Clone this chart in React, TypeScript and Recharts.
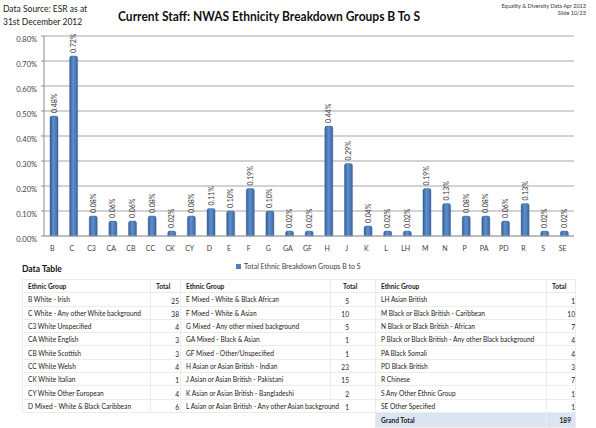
import React from 'react';
import { Bar, BarChart, CartesianGrid, LabelList, XAxis, YAxis } from 'recharts';

const codes = ['B', 'C', 'C3', 'CA', 'CB', 'CC', 'CK', 'CY', 'D', 'E', 'F', 'G', 'GA', 'GF', 'H', 'J', 'K', 'L', 'LH', 'M', 'N', 'P', 'PA', 'PD', 'R', 'S', 'SE'];
const shares = [0.48, 0.72, 0.08, 0.06, 0.06, 0.08, 0.02, 0.08, 0.11, 0.1, 0.19, 0.1, 0.02, 0.02, 0.44, 0.29, 0.04, 0.02, 0.02, 0.19, 0.13, 0.08, 0.08, 0.06, 0.13, 0.02, 0.02];
const yTicks = [0, 0.1, 0.2, 0.3, 0.4, 0.5, 0.6, 0.7, 0.8];

const groupsA = ['B White - Irish', 'C White - Any other White background', 'C3 White Unspecified', 'CA White English', 'CB White Scottish', 'CC White Welsh', 'CK White Italian', 'CY White Other European', 'D Mixed - White & Black Caribbean'];
const totalsA = [25, 38, 4, 3, 3, 4, 1, 4, 6];
const groupsB = ['E Mixed - White & Black African', 'F Mixed - White & Asian', 'G Mixed - Any other mixed background', 'GA Mixed - Black & Asian', 'GF Mixed - Other/Unspecified', 'H Asian or Asian British - Indian', 'J Asian or Asian British - Pakistani', 'K Asian or Asian British - Bangladeshi', 'L Asian or Asian British - Any other Asian background'];
const totalsB = [5, 10, 5, 1, 1, 23, 15, 2, 1];
const groupsC = ['LH Asian British', 'M Black or Black British - Caribbean', 'N Black or Black British - African', 'P Black or Black British - Any other Black background', 'PA Black Somali', 'PD Black British', 'R Chinese', 'S Any Other Ethnic Group', 'SE Other Specified'];
const totalsC = [1, 10, 7, 4, 4, 3, 7, 1, 1];
const grandTotal = 189;

const seriesName = 'Total Ethnic Breakdown Groups B to S';
const FONT = 'Lato, "Liberation Sans", sans-serif';
const INK = '#404040';

const chartData = codes.map((code, i) => ({ code, share: shares[i] }));

const fmt = (v: number) => `${v.toFixed(2)}%`;

// rotated value label sitting just above each bar
const ValueLabel = (props: any) => {
  const { x, y, width, value } = props;
  const cx = x + width / 2 + 2.5;
  const cy = y - 3;
  return (
    <text x={cx} y={cy} transform={`rotate(-90 ${cx} ${cy})`} fontSize={7} fill="#333" fontFamily={FONT}>
      {fmt(value)}
    </text>
  );
};

const YTick = (p: any) => (
  <text x={p.x - 2} y={p.y + 6} textAnchor="end" fontSize={7.5} fill={INK} fontFamily={FONT}>
    {fmt(p.payload.value)}
  </text>
);

const XTick = (p: any) => (
  <text x={p.x - 1.5} y={p.y + 7} textAnchor="middle" fontSize={7} fill={INK} fontFamily={FONT}>
    {p.payload.value}
  </text>
);

const cell: React.CSSProperties = {
  border: '1px solid #ececec',
  padding: '0 0 0 5px',
  height: 12.3,
  whiteSpace: 'nowrap',
  overflow: 'visible',
};
const numCell = (pad: number): React.CSSProperties => ({
  ...cell,
  textAlign: 'right',
  verticalAlign: 'bottom',
  padding: `0 ${pad}px 0 0`,
  lineHeight: '9px',
});

function DataTable() {
  return (
    <table
      style={{
        position: 'absolute',
        left: 22,
        top: 279,
        borderCollapse: 'collapse',
        tableLayout: 'fixed',
        width: 553,
        fontFamily: FONT,
        fontSize: 6.6,
        color: '#222',
      }}
    >
      <colgroup>
        <col style={{ width: 128 }} />
        <col style={{ width: 30 }} />
        <col style={{ width: 150 }} />
        <col style={{ width: 45 }} />
        <col style={{ width: 171 }} />
        <col style={{ width: 29 }} />
      </colgroup>
      <tbody>
        <tr style={{ fontWeight: 700 }}>
          <td style={cell}>Ethnic Group</td>
          <td style={cell}>Total</td>
          <td style={cell}>Ethnic Group</td>
          <td style={{ ...cell, paddingLeft: 12 }}>Total</td>
          <td style={cell}>Ethnic Group</td>
          <td style={cell}>Total</td>
        </tr>
        {groupsA.map((g, i) => (
          <tr key={g}>
            <td style={cell}>{g}</td>
            <td style={numCell(1)}>{totalsA[i]}</td>
            <td style={cell}>{groupsB[i]}</td>
            <td style={numCell(26)}>{totalsB[i]}</td>
            <td style={cell}>{groupsC[i]}</td>
            <td style={numCell(0)}>{totalsC[i]}</td>
          </tr>
        ))}
        <tr style={{ fontWeight: 700 }}>
          <td colSpan={4} style={{ height: 12.3 }} />
          <td style={{ ...cell, background: '#dbe5f1' }}>Grand Total</td>
          <td style={{ ...cell, background: '#dbe5f1', textAlign: 'right', paddingRight: 4 }}>{grandTotal}</td>
        </tr>
      </tbody>
    </table>
  );
}

export default function App() {
  return (
    <div style={{ position: 'absolute', left: 0, top: 0, width: 596, height: 428, background: '#fff', fontFamily: FONT }}>
      <svg width={596} height={30} style={{ position: 'absolute', left: 0, top: 0 }}>
        <text x={3} y={12} fontSize={8.5} fill="#222" fontFamily={FONT}>Data Source: ESR as at</text>
        <text x={3} y={25} fontSize={8.5} fill="#222" fontFamily={FONT}>31st December 2012</text>
        <text x={269} y={21} textAnchor="middle" fontSize={14} fontWeight={700} fill="#111" fontFamily={FONT} textLength={302} lengthAdjust="spacingAndGlyphs">
          Current Staff: NWAS Ethnicity Breakdown Groups B To S
        </text>
        <text x={586} y={8} textAnchor="end" fontSize={5.5} fill="#333" fontFamily={FONT}>Equality &amp; Diversity Data Apr 2013</text>
        <text x={586} y={15} textAnchor="end" fontSize={5.5} fill="#333" fontFamily={FONT}>Slide 10/23</text>
      </svg>

      <div style={{ position: 'absolute', left: 0, top: 0 }}>
        <BarChart width={596} height={256} data={chartData} margin={{ top: 36, right: 22, left: 0, bottom: 0 }} barSize={8}>
          <defs>
            <linearGradient id="barFill" x1="0" y1="0" x2="1" y2="0">
              <stop offset="0%" stopColor="#345f96" />
              <stop offset="45%" stopColor="#5f8fcf" />
              <stop offset="100%" stopColor="#3a67a2" />
            </linearGradient>
          </defs>
          <CartesianGrid vertical={false} stroke="#a6a6a6" />
          <XAxis dataKey="code" interval={0} height={20} axisLine={{ stroke: '#a6a6a6' }} tickLine={false} tick={<XTick />} />
          <YAxis
            type="number"
            domain={[0, 0.8]}
            ticks={yTicks}
            width={44}
            axisLine={{ stroke: '#8c8c8c' }}
            tickLine={{ stroke: '#8c8c8c' }}
            tickSize={3}
            tick={<YTick />}
          />
          <Bar dataKey="share" name={seriesName} fill="url(#barFill)" stroke="#2f5b8f" strokeWidth={0.4} radius={[2, 2, 0, 0]} isAnimationActive={false}>
            <LabelList dataKey="share" content={<ValueLabel />} />
          </Bar>
        </BarChart>
      </div>

      <div style={{ position: 'absolute', left: 236, top: 262, display: 'flex', alignItems: 'center', fontSize: 7, color: INK, whiteSpace: 'nowrap' }}>
        <span style={{ display: 'inline-block', width: 5, height: 5, background: '#4f81bd', marginRight: 3 }} />
        {seriesName}
      </div>

      <div style={{ position: 'absolute', left: 22, top: 264, fontSize: 8.5, fontWeight: 700, color: '#111' }}>Data Table</div>

      <DataTable />
    </div>
  );
}
